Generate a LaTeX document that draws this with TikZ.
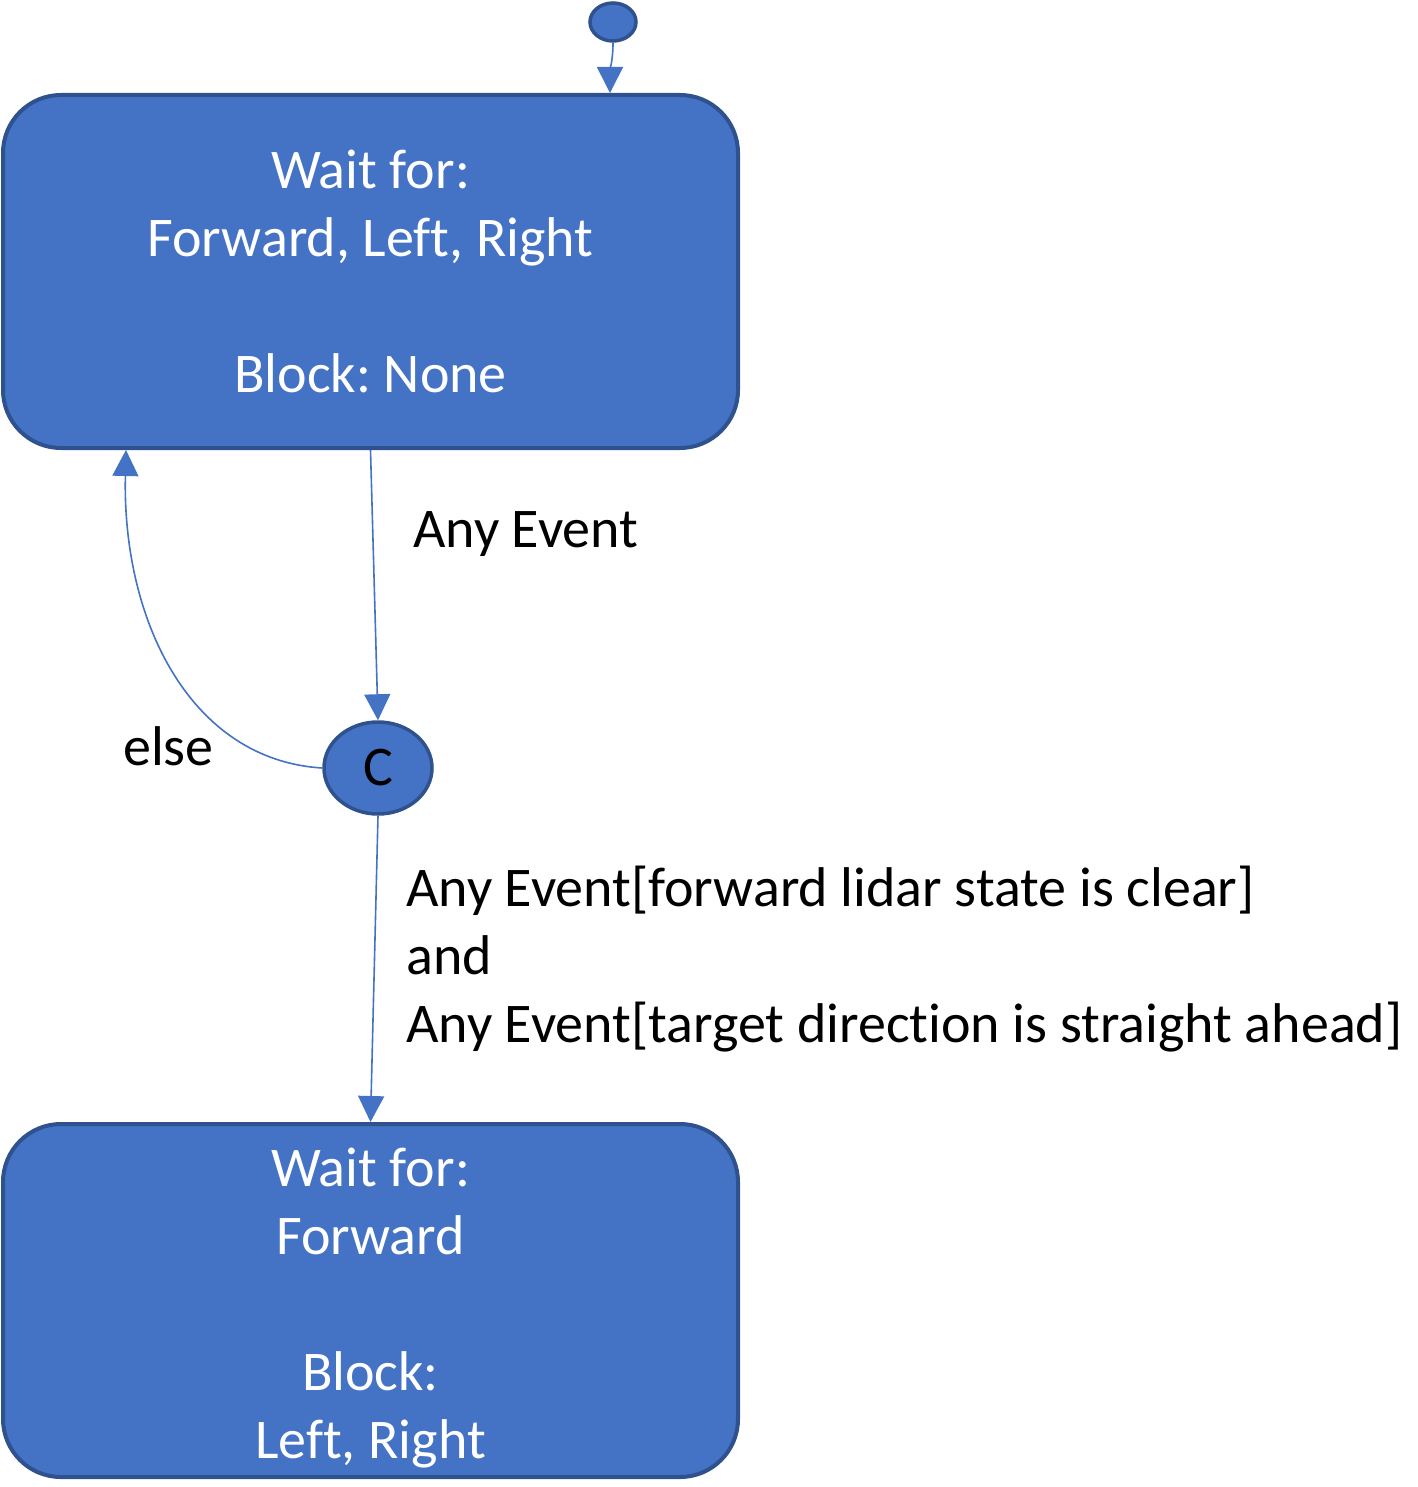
\documentclass[tikz,border=0pt]{standalone}
\usepackage{fontspec}
\setmainfont{Carlito}[Ligatures={NoCommon,NoRare,NoContextual}]
\frenchspacing
\usetikzlibrary{arrows.meta,shapes.geometric}
\definecolor{boxfill}{HTML}{4472C4}
\definecolor{boxline}{HTML}{2F528F}
\begin{document}
\begin{tikzpicture}[x=1pt,y=-1pt,
  state/.style={draw=boxline,line width=4pt,fill=boxfill,rounded corners=58pt,
    minimum width=735pt,minimum height=353pt,text=white,align=center,inner sep=0pt,
    font=\fontsize{56}{68}\selectfont},
  pseudo/.style={ellipse,draw=boxline,line width=3.5pt,fill=boxfill,inner sep=0pt},
  conn/.style={draw=boxfill,line width=1.6pt,-{Triangle[width=26pt,length=26pt]}},
  lbl/.style={font=\fontsize{56}{68}\selectfont,inner sep=0pt,align=left}]
\useasboundingbox (0,0) rectangle (1417,1487);
\node[state] (s1) at (370.5,271.5) {Wait for:\\Forward, Left, Right\\[68pt]Block: None};
\node[state] (s2) at (370.5,1300.5) {\rule{0pt}{54pt}Wait for:\\Forward\\[68pt]Block:\\Left, Right};
\node[pseudo,minimum width=46pt,minimum height=38pt] (init) at (613,22) {};
\node[pseudo,minimum width=108pt,minimum height=92pt,font=\fontsize{56}{68}\selectfont] (c) at (378,768) {C};
\coordinate (elseend) at (126,450);
\draw[conn] (init.south) .. controls (613,60) and (610,70) .. (s1.north -| 610,0);
\draw[conn] (s1.south) -- (c.north);
\draw[conn] (c.south) -- (s2.north);
\draw[conn] (c.west) .. controls (190,760) and (122,620) .. (elseend);
\node[lbl,anchor=base west] (l1) at (413,547) {Any Event};
\node[lbl,anchor=base west] (l2) at (123,765) {else};
\node[lbl,anchor=base west] (l3) at (406,906) {Any Event[forward lidar state is clear]};
\node[lbl,anchor=base west] (l4) at (406,974) {and};
\node[lbl,anchor=base west] (l5) at (406,1042) {Any Event[target direction is straight ahead]};
\end{tikzpicture}
\end{document}
